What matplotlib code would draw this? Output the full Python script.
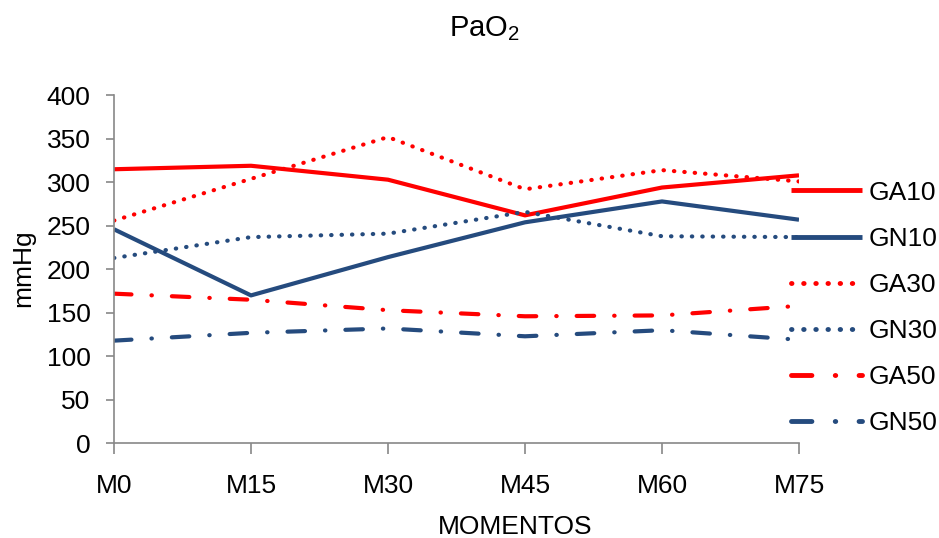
import matplotlib
matplotlib.use("Agg")
import matplotlib.pyplot as plt

plt.rcParams['font.family'] = ['Liberation Sans', 'DejaVu Sans']
plt.rcParams['mathtext.fontset'] = 'custom'
plt.rcParams['mathtext.rm'] = 'Liberation Sans'
plt.rcParams['mathtext.it'] = 'Liberation Sans'

categories = ["M0", "M15", "M30", "M45", "M60", "M75"]
GA10 = [315, 319, 303, 262, 294, 308]
GN10 = [246, 170, 214, 254, 278, 257]
GA30 = [256, 304, 352, 292, 314, 301]
GN30 = [213, 237, 241, 266, 238, 237]
GA50 = [172, 165, 153, 146, 147, 158]
GN50 = [118, 127, 132, 123, 130, 119]

RED = "#FF0000"
BLUE = "#254B7E"
dotted = (0, (0.1, 2.4))
dashdot = (0, (4.2, 4.8, 0.1, 4.8))

series = [
    ("GA10", GA10, RED, '-'),
    ("GN10", GN10, BLUE, '-'),
    ("GA30", GA30, RED, dotted),
    ("GN30", GN30, BLUE, dotted),
    ("GA50", GA50, RED, dashdot),
    ("GN50", GN50, BLUE, dashdot),
]

W, H = 939, 538
fig = plt.figure(figsize=(W/100, H/100), dpi=100)
ax = fig.add_axes([114/W, 1-443.3/H, (799-114)/W, (443.3-95.3)/H])

x = list(range(len(categories)))
for name, vals, color, ls in series:
    ax.plot(x, vals, color=color, linestyle=ls, linewidth=3,
            dash_capstyle='round', solid_capstyle='butt', label=name)

ax.set_xlim(0, len(categories) - 1)
ax.set_ylim(0, 400)
ax.set_yticks(range(0, 401, 50))
ax.set_xticks(x)
ax.set_xticklabels(categories)

for s in ['top', 'right']:
    ax.spines[s].set_visible(False)
for s in ['left', 'bottom']:
    ax.spines[s].set_color('#888888')
    ax.spines[s].set_linewidth(1.2)
ax.spines['bottom'].set_zorder(0)

ax.tick_params(axis='y', direction='out', length=6, width=1.2, color='#888888',
               labelsize=19, pad=11)
ax.tick_params(axis='x', direction='out', length=8, width=1.2, color='#888888',
               labelsize=19, pad=14)

fig.text(515/W, 1-527/H, "MOMENTOS", ha='center', va='center', fontsize=19)
fig.text(23/W, 1-268/H, "mmHg", ha='center', va='center', rotation=90, fontsize=19)
fig.text(484/W, 1-29/H, "PaO$_2$", ha='center', va='center', fontsize=21)

leg = ax.legend(loc='center left', bbox_to_anchor=(791/W, 1-308/H),
                bbox_transform=fig.transFigure, frameon=False, fontsize=19,
                handlelength=2.7, handletextpad=0.25, labelspacing=0.84,
                borderaxespad=0, borderpad=0)
for line in leg.get_lines():
    line.set_linewidth(3.5)

fig.savefig("out.png", dpi=100)
